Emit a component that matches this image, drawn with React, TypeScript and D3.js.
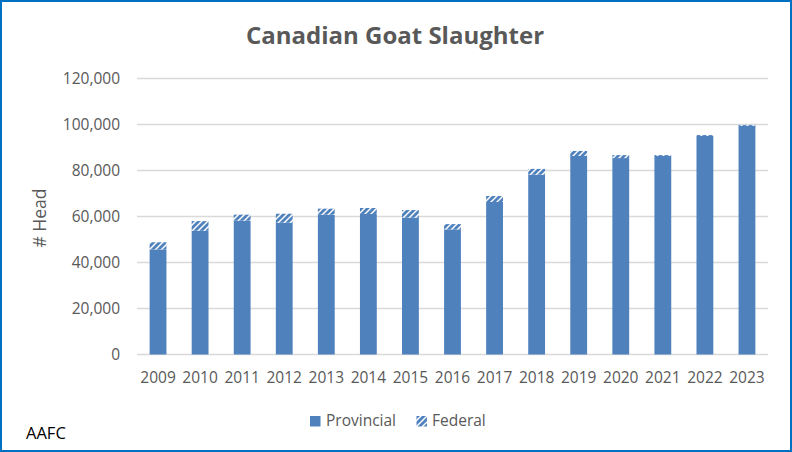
import React from "react";
import * as d3 from "d3";

const years = ["2009","2010","2011","2012","2013","2014","2015","2016","2017","2018","2019","2020","2021","2022","2023"];
const provincial = [45700, 53800, 58200, 57300, 60800, 61100, 59500, 54400, 66300, 78200, 86300, 85400, 86300, 95000, 99400];
const federal = [3100, 4200, 2600, 3900, 2600, 2600, 3300, 2300, 2600, 2500, 2200, 1300, 400, 400, 400];
const yTicks = [0, 20000, 40000, 60000, 80000, 100000, 120000];

const W = 792, H = 452;
const left = 137, right = 768, top = 78.5, bottom = 354.5;
const blue = "#4F81BD";
const grey = "#595959";
const font = "'Open Sans', sans-serif";

export default function App() {
  const x = d3.scaleBand<string>().domain(years).range([left, right]).paddingInner(0.6).paddingOuter(0.3);
  const y = d3.scaleLinear().domain([0, 120000]).range([bottom, top]);
  const fmt = d3.format(",");
  const stacked = d3.stack<any>().keys(["provincial", "federal"])(
    years.map((yr, i) => ({ year: yr, provincial: provincial[i], federal: federal[i] }))
  );
  return (
    <div style={{ position: "fixed", left: 0, top: 0 }}>
      <svg width={W} height={H} style={{ display: "block" }}>
        <defs>
          <pattern id="hatch" patternUnits="userSpaceOnUse" width="6" height="6">
            <rect width="6" height="6" fill="#fff" />
            <path d="M-1,7 L7,-1 M-4,4 L4,-4 M2,10 L10,2" stroke={blue} strokeWidth="2.8" />
          </pattern>
        </defs>
        <rect x={1} y={1} width={W - 2} height={H - 2} fill="#fff" stroke="#0070C0" strokeWidth={2} />
        <text x={395} y={44} textAnchor="middle" fontFamily={font} fontWeight="bold" fontSize={24} fill={grey}>
          Canadian Goat Slaughter
        </text>
        {yTicks.map((t) => (
          <g key={t}>
            <line x1={left} x2={right} y1={y(t)} y2={y(t)} stroke="#D9D9D9" strokeWidth={1.3} />
            <text x={120} y={y(t)} dy="0.35em" textAnchor="end" fontFamily={font} fontSize={15.5} fill={grey}>
              {fmt(t)}
            </text>
          </g>
        ))}
        {stacked.map((s, si) =>
          s.map((d, i) => (
            <rect
              key={si + "-" + i}
              x={x(years[i])}
              width={x.bandwidth()}
              y={y(d[1])}
              height={y(d[0]) - y(d[1])}
              fill={si === 0 ? blue : "url(#hatch)"}
            />
          ))
        )}
        {years.map((yr) => (
          <text key={yr} x={(x(yr) as number) + x.bandwidth() / 2} y={378} dy="0.35em" textAnchor="middle" fontFamily={font} fontSize={15.5} fill={grey}>
            {yr}
          </text>
        ))}
        <text transform="translate(40,218) rotate(-90)" textAnchor="middle" dy="0.35em" fontFamily={font} fontSize={17.5} fill={grey}>
          # Head
        </text>
        <rect x={310} y={416} width={10.5} height={10.5} fill={blue} />
        <text x={326} y={421} dy="0.35em" fontFamily={font} fontSize={15.5} fill={grey}>Provincial</text>
        <rect x={416.5} y={416} width={10.5} height={10.5} fill="url(#hatch)" />
        <text x={432} y={421} dy="0.35em" fontFamily={font} fontSize={15.5} fill={grey}>Federal</text>
        <text x={26} y={439} fontFamily={font} fontSize={16.5} fill="#000">AAFC</text>
      </svg>
    </div>
  );
}
